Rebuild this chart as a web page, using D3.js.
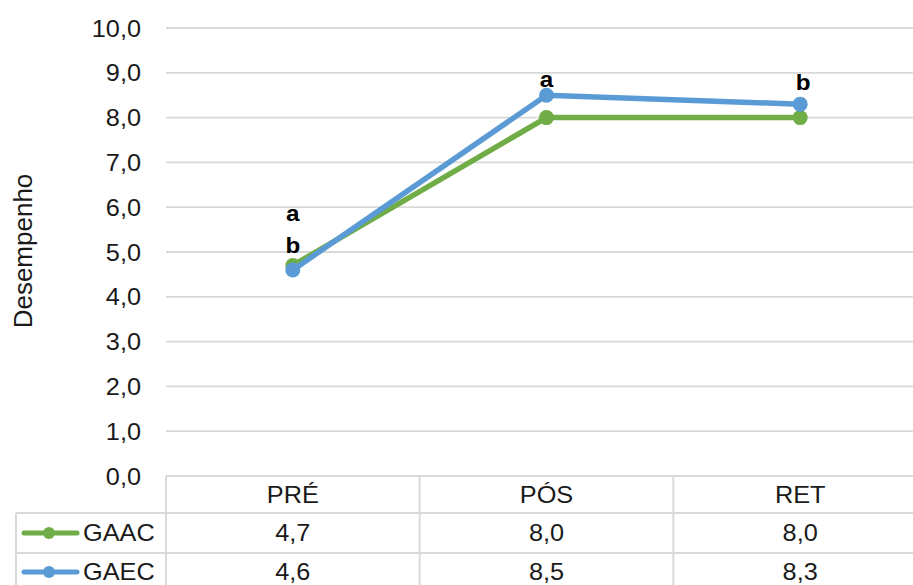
<!DOCTYPE html>
<html>
<head>
<meta charset="utf-8">
<script src="https://cdn.jsdelivr.net/npm/d3@7"></script>
<style>
  html, body { margin: 0; padding: 0; background: #fff; }
  svg { display: block; font-family: "Liberation Sans", Arial, sans-serif; }
</style>
</head>
<body>
<svg id="chart" width="913" height="585"></svg>
<script>
// Categories and series
const categories = ["PRÉ", "PÓS", "RET"];
const seriesNames = ["GAAC", "GAEC"];
const gaac = [4.7, 8.0, 8.0];
const gaec = [4.6, 8.5, 8.3];
const seriesColors = ["#70AD47", "#5B9BD5"];
// Significance letters per category (upper letter, lower letter)
const lettersUpper = ["a", "a", "b"];
const lettersLower = ["b", "", ""];
const yTicks = [0, 1, 2, 3, 4, 5, 6, 7, 8, 9, 10];

const svg = d3.select("#chart");
const W = 913, H = 585;
const plotLeft = 166, plotRight = 927;
const plotTop = 28, plotBottom = 476;
const textColor = "#1a1a1a";
const fs = 23;        // body text size
const sx = 1.1;       // horizontal widening of the text

const x = d3.scaleBand().domain(categories).range([plotLeft, plotRight]).padding(0);
const y = d3.scaleLinear().domain([0, 10]).range([plotBottom, plotTop]);
const fmt = v => d3.format(".1f")(v).replace(".", ",");
const cx = c => x(c) + x.bandwidth() / 2;

// Text placed at (tx, ty) and widened horizontally
function label(g, tx, ty, str, anchor, opts = {}) {
  return g.append("text")
    .attr("transform", `translate(${tx},${ty}) scale(${sx},1)`)
    .attr("text-anchor", anchor)
    .attr("dy", opts.dy || "0.35em")
    .attr("font-size", opts.size || fs)
    .attr("font-weight", opts.weight || "normal")
    .attr("fill", opts.fill || textColor)
    .text(str);
}

// Gridlines
svg.append("g").selectAll("line").data(yTicks).join("line")
  .attr("x1", plotLeft).attr("x2", W)
  .attr("y1", d => y(d)).attr("y2", d => y(d))
  .attr("stroke", "#d9d9d9").attr("stroke-width", 1.8);

// Y axis labels
const yAxis = d3.axisLeft(y).tickValues(yTicks).tickFormat(fmt).tickSize(0).tickPadding(0);
const ya = svg.append("g").attr("transform", `translate(141,0)`).call(yAxis);
ya.select(".domain").remove();
ya.selectAll("text")
  .attr("font-size", fs).attr("fill", textColor)
  .attr("font-family", "Liberation Sans, Arial, sans-serif")
  .attr("dy", "0.35em").attr("transform", `scale(${sx},1)`);

// Axis title
svg.append("text")
  .attr("transform", `translate(32,251) rotate(-90)`)
  .attr("text-anchor", "middle").attr("font-size", 26).attr("fill", textColor)
  .text("Desempenho");

// Data table grid
const rowY = [476, 513, 553, 593];
const tbl = svg.append("g").attr("stroke", "#d9d9d9").attr("stroke-width", 2);
tbl.append("line").attr("x1", plotLeft).attr("x2", W).attr("y1", rowY[0]).attr("y2", rowY[0]);
tbl.append("line").attr("x1", 16).attr("x2", W).attr("y1", rowY[1]).attr("y2", rowY[1]);
tbl.append("line").attr("x1", 16).attr("x2", W).attr("y1", rowY[2]).attr("y2", rowY[2]);
tbl.append("line").attr("x1", 16).attr("x2", 16).attr("y1", rowY[1]).attr("y2", H);
categories.forEach(c => {
  tbl.append("line").attr("x1", x(c)).attr("x2", x(c)).attr("y1", rowY[0]).attr("y2", H);
});

// Table header
const tg = svg.append("g");
categories.forEach(c => label(tg, cx(c), 495, c, "middle"));

// Table rows with legend keys
const allSeries = [gaac, gaec];
const rowCenters = [533, 572];
allSeries.forEach((vals, i) => {
  const ty = rowCenters[i];
  vals.forEach((v, j) => label(tg, cx(categories[j]), ty, fmt(v), "middle"));
  svg.append("line").attr("x1", 24).attr("x2", 77).attr("y1", ty).attr("y2", ty)
    .attr("stroke", seriesColors[i]).attr("stroke-width", 5).attr("stroke-linecap", "round");
  svg.append("circle").attr("cx", 49).attr("cy", ty).attr("r", 6).attr("fill", seriesColors[i]);
  label(tg, 83, ty, seriesNames[i], "start");
});

// Lines and markers
const line = d3.line().x((d, j) => cx(categories[j])).y(d => y(d));
allSeries.forEach((vals, i) => {
  svg.append("path").datum(vals).attr("d", line)
    .attr("fill", "none").attr("stroke", seriesColors[i]).attr("stroke-width", 5.5)
    .attr("stroke-linejoin", "round").attr("stroke-linecap", "round");
  svg.append("g").selectAll("circle").data(vals).join("circle")
    .attr("cx", (d, j) => cx(categories[j])).attr("cy", d => y(d))
    .attr("r", 7.5).attr("fill", seriesColors[i]);
});

// Significance letters
const lg = svg.append("g");
const topVals = categories.map((c, j) => Math.max(gaac[j], gaec[j]));
const upperOffset = [44, 8, 14];
lettersUpper.forEach((t, j) => {
  if (t) label(lg, cx(categories[j]) + (j === 2 ? 3 : 0), y(topVals[j]) - upperOffset[j], t, "middle",
               { dy: "0", size: 22, weight: "bold", fill: "#000" });
});
lettersLower.forEach((t, j) => {
  if (t) label(lg, cx(categories[j]), y(topVals[j]) - 12, t, "middle",
               { dy: "0", size: 22, weight: "bold", fill: "#000" });
});
</script>
</body>
</html>
